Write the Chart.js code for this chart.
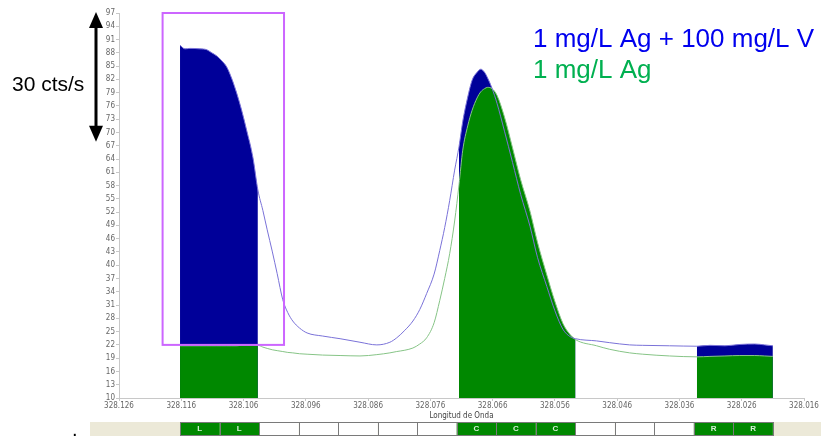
<!DOCTYPE html>
<html>
<head>
<meta charset="utf-8">
<script src="https://cdn.jsdelivr.net/npm/chart.js@4.4.1/dist/chart.umd.min.js"></script>
<style>
  html, body { margin: 0; padding: 0; background: #fff; overflow: hidden; }
  #wrap { width: 821px; height: 436px; position: relative; }
</style>
</head>
<body>
<div id="wrap"><canvas id="scanChart"></canvas></div>
<script>
// wavelength (nm), x axis runs from high to low
const wavelength = [
  328.1162, 328.1154, 328.1146, 328.1130, 328.1119, 328.1111, 328.1103, 328.1095,
  328.1087, 328.1079, 328.1071, 328.1063, 328.1055, 328.1045, 328.1037, 328.1029,
  328.1022, 328.1014, 328.1006, 328.0997, 328.0989, 328.0981, 328.0970, 328.0958,
  328.0933, 328.0905, 328.0873, 328.0846, 328.0825, 328.0814, 328.0801, 328.0788,
  328.0777, 328.0766, 328.0754, 328.0745, 328.0737, 328.0729, 328.0721, 328.0714,
  328.0708, 328.0700, 328.0693, 328.0685, 328.0679, 328.0673, 328.0668, 328.0661,
  328.0653, 328.0641, 328.0628, 328.0615, 328.0600, 328.0588, 328.0573, 328.0560,
  328.0547, 328.0536, 328.0527, 328.0493, 328.0472, 328.0440, 328.0419, 328.0376,
  328.0332, 328.0311, 328.0287, 328.0263, 328.0239, 328.0223, 328.0210
];
// 1 mg/L Ag + 100 mg/L V
const agWithV = [
  89.7, 88.9, 89.0, 88.9, 88.7, 88.0, 87.3, 86.2,
  84.8, 82.2, 78.9, 75.0, 70.5, 64.4, 57.0, 52.4,
  48.0, 43.2, 38.1, 32.2, 29.3, 27.4, 25.8, 24.7,
  24.0, 23.4, 22.6, 22.0, 22.6, 23.6, 25.3, 27.4,
  30.0, 33.6, 38.0, 43.3, 48.5, 54.6, 61.5, 66.8,
  72.5, 78.0, 81.8, 83.6, 84.3, 83.6, 82.3, 80.0,
  76.6, 70.3, 63.2, 56.0, 48.8, 41.8, 35.2, 29.7,
  25.5, 23.9, 23.4, 22.9, 22.5, 22.0, 21.9, 21.8,
  21.7, 21.9, 21.8, 22.1, 22.2, 22.0, 21.8
];
// 1 mg/L Ag
const agOnly = [
  21.8, 21.8, 21.8, 21.8, 21.8, 21.8, 21.8, 21.8,
  21.8, 21.8, 21.8, 21.9, 21.9, 21.9, 21.9, 21.5,
  21.2, 20.9, 20.7, 20.5, 20.3, 20.2, 20.0, 19.9,
  19.7, 19.6, 19.5, 19.8, 20.2, 20.5, 20.8, 21.3,
  22.2, 23.6, 27.0, 32.0, 37.0, 42.6, 50.0, 58.2,
  66.0, 71.5, 75.0, 77.8, 79.2, 79.9, 80.2, 79.9,
  78.4, 73.5, 66.5, 59.3, 52.2, 45.2, 37.8, 31.8,
  26.8, 24.4, 23.2, 21.8, 21.0, 20.2, 19.9, 19.5,
  19.3, 19.4, 19.5, 19.6, 19.6, 19.5, 19.4
];
const seriesNames = ["1 mg/L Ag + 100 mg/L V", "1 mg/L Ag"];

// axes
const yMin = 10, yMax = 97, yStep = 3;
const xMin = 328.016, xMax = 328.126, xStep = 0.01;

// detector pixels: L = left background, C = center, R = right background
const pixelStart = 328.1162, pixelEnd = 328.0210;
const pixelFlags = ["L", "L", "", "", "", "", "", "C", "C", "C", "", "", "", "R", "R"];

// marked window and scale bar
const markedWindow = { from: 328.1190, to: 328.0995, low: 22, high: 97 };
const scaleBar = { low: 67, high: 97, label: "30 cts/s" };

const blueFill = "#000099", greenFill = "#008800";
const blueLine = "#7a72d8", greenLine = "#86c486";

const cellW = (pixelStart - pixelEnd) / pixelFlags.length;
const cells = pixelFlags.map((f, i) => ({
  flag: f,
  hi: pixelStart - i * cellW,
  lo: pixelStart - (i + 1) * cellW,
}));

// group consecutive flagged cells into windows
const windows = [];
cells.forEach((c) => {
  if (!c.flag) return;
  const last = windows[windows.length - 1];
  if (last && last.flag === c.flag && Math.abs(last.lo - c.hi) < 1e-9) last.lo = c.lo;
  else windows.push({ flag: c.flag, lo: c.lo, hi: c.hi });
});

const pts = (vals) => wavelength.map((w, i) => ({ x: w, y: vals[i] }));
const inWindow = (vals, w) =>
  pts(vals).filter((p) => p.x >= w.lo - 1e-4 && p.x <= w.hi + 1e-4);

const datasets = [
  {
    label: seriesNames[0], data: pts(agWithV), borderColor: blueLine,
    borderWidth: 1, pointRadius: 0, fill: false, order: 0,
    cubicInterpolationMode: "monotone",
  },
  {
    label: seriesNames[1], data: pts(agOnly), borderColor: greenLine,
    borderWidth: 1, pointRadius: 0, fill: false, order: 1,
    cubicInterpolationMode: "monotone",
  },
];
windows.forEach((w) => {
  datasets.push({
    label: "fill " + w.flag, data: inWindow(agOnly, w), borderWidth: 0,
    borderColor: greenFill, backgroundColor: greenFill, pointRadius: 0,
    fill: "start", order: 2, cubicInterpolationMode: "monotone",
  });
  datasets.push({
    label: "fill " + w.flag, data: inWindow(agWithV, w), borderWidth: 0,
    borderColor: blueFill, backgroundColor: blueFill, pointRadius: 0,
    fill: "start", order: 3, cubicInterpolationMode: "monotone",
  });
});

const extras = {
  id: "extras",
  afterDraw(chart) {
    const { ctx } = chart;
    const x = chart.scales.x, y = chart.scales.y;
    ctx.save();

    // marked window
    ctx.strokeStyle = "#cc66ff";
    ctx.lineWidth = 2;
    const bx0 = x.getPixelForValue(markedWindow.from);
    const bx1 = x.getPixelForValue(markedWindow.to);
    const by0 = y.getPixelForValue(markedWindow.high);
    const by1 = y.getPixelForValue(markedWindow.low);
    ctx.strokeRect(bx0, by0, bx1 - bx0, by1 - by0);

    // scale bar arrow
    const ax = 96;
    const ay0 = y.getPixelForValue(scaleBar.high) - 1;
    const ay1 = y.getPixelForValue(scaleBar.low) - 4;
    ctx.fillStyle = "#000";
    ctx.fillRect(ax - 1.5, ay0 + 10, 3, ay1 - ay0 - 20);
    ctx.beginPath();
    ctx.moveTo(ax, ay0); ctx.lineTo(ax - 7, ay0 + 16); ctx.lineTo(ax + 7, ay0 + 16);
    ctx.closePath(); ctx.fill();
    ctx.beginPath();
    ctx.moveTo(ax, ay1); ctx.lineTo(ax - 7, ay1 - 16); ctx.lineTo(ax + 7, ay1 - 16);
    ctx.closePath(); ctx.fill();
    ctx.font = "21px 'Liberation Sans', Arial, sans-serif";
    ctx.textBaseline = "middle";
    ctx.textAlign = "left";
    ctx.fillText(scaleBar.label, 12, 85);

    // series captions
    ctx.font = "26px 'Liberation Sans', Arial, sans-serif";
    ctx.textBaseline = "alphabetic";
    ctx.fillStyle = "#0000ee";
    ctx.fillText(seriesNames[0], 533, 47);
    ctx.fillStyle = "#00b050";
    ctx.fillText(seriesNames[1], 533, 78);

    // pixel strip
    const sy = 422, sh = 14;
    ctx.fillStyle = "#ece9d8";
    ctx.fillRect(90, sy, chart.width - 90, sh);
    ctx.font = "bold 8px 'Liberation Sans', Arial, sans-serif";
    ctx.textAlign = "center";
    ctx.textBaseline = "middle";
    cells.forEach((c) => {
      const px0 = x.getPixelForValue(c.hi), px1 = x.getPixelForValue(c.lo);
      ctx.fillStyle = c.flag ? greenFill : "#fff";
      ctx.fillRect(px0, sy + 1, px1 - px0, sh - 2);
      ctx.strokeStyle = "#7a7a7a";
      ctx.lineWidth = 1;
      ctx.strokeRect(Math.round(px0) + 0.5, sy + 0.5, Math.round(px1 - px0), sh - 1);
      if (c.flag) {
        ctx.fillStyle = "#d8f0d8";
        ctx.fillText(c.flag, (px0 + px1) / 2, sy + sh / 2);
      }
    });

    ctx.fillStyle = "#000";
    ctx.font = "20px 'Liberation Sans', Arial, sans-serif";
    ctx.textAlign = "left";
    ctx.textBaseline = "alphabetic";
    ctx.fillText(".", 72, 436);
    ctx.restore();
  },
};

const tickFont = { family: "'Liberation Sans Narrow', 'DejaVu Sans Condensed', 'Liberation Sans', sans-serif", size: 8 };

new Chart(document.getElementById("scanChart"), {
  type: "line",
  data: { datasets },
  plugins: [extras],
  options: {
    responsive: true,
    maintainAspectRatio: false,
    animation: false,
    layout: { padding: { top: 13, right: 17, left: 0, bottom: 0 } },
    plugins: { legend: { display: false }, tooltip: { enabled: false } },
    scales: {
      x: {
        type: "linear",
        reverse: true,
        min: xMin,
        max: xMax,
        afterFit: (s) => { s.height = 38; },
        ticks: {
          stepSize: xStep,
          maxRotation: 0,
          autoSkip: false,
          color: "#666",
          font: tickFont,
          padding: 0,
          callback: (v) => Number(v).toFixed(3),
        },
        grid: { drawOnChartArea: false, tickLength: 3, color: "#c8c8c8" },
        border: { color: "#c8c8c8" },
        title: {
          display: true,
          text: "Longitud de Onda",
          color: "#444",
          font: tickFont,
          padding: { top: 0, bottom: 15 },
        },
      },
      y: {
        min: yMin,
        max: yMax,
        afterFit: (s) => { s.width = 119; },
        ticks: { stepSize: yStep, color: "#666", font: tickFont, padding: 1 },
        grid: { drawOnChartArea: false, tickLength: 3, color: "#c8c8c8" },
        border: { color: "#c8c8c8" },
      },
    },
  },
});
</script>
</body>
</html>
